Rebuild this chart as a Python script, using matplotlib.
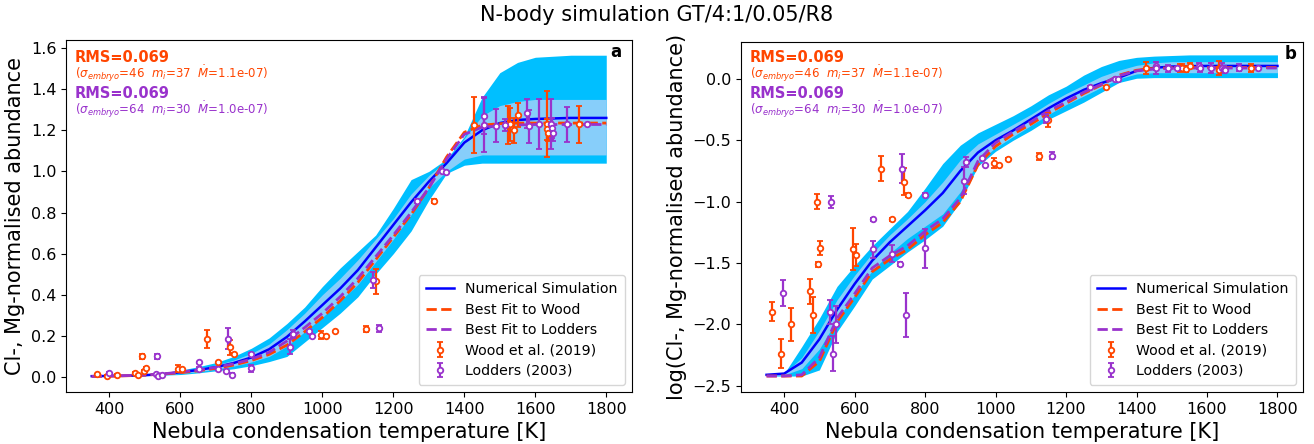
import numpy as np
import matplotlib.pyplot as plt

# temperature grid of the model curves [K]
T_grid = [350, 400, 450, 500, 550, 600, 650, 700, 750, 800, 850, 900, 950, 1000,
          1050, 1100, 1150, 1200, 1250, 1300, 1350, 1400, 1450, 1500, 1550, 1600, 1700, 1800]

# panel a: linear abundance
sim_a = [.004, .005, .006, .009, .014, .023, .034, .048, .068, .095, .135, .195, .27, .35,
         .43, .52, .63, .74, .85, .95, 1.04, 1.14, 1.2, 1.235, 1.25, 1.255, 1.26, 1.26]
outer_lo_a = [.004, .004, .005, .006, .009, .012, .02, .03, .04, .055, .075, .1, .17, .24,
              .31, .39, .5, .6, .71, .86, .99, 1.03, 1.04, 1.04, 1.04, 1.04, 1.04, 1.04]
outer_hi_a = [.004, .005, .008, .013, .02, .033, .05, .07, .1, .14, .19, .26, .34, .44,
              .53, .61, .69, .82, .96, 1.0, 1.06, 1.17, 1.36, 1.48, 1.53, 1.555, 1.565, 1.565]
inner_lo_a = [.004, .004, .005, .007, .011, .017, .026, .038, .053, .073, .1, .15, .22, .29,
              .37, .45, .56, .67, .79, .92, 1.0, 1.06, 1.08, 1.08, 1.08, 1.08, 1.08, 1.08]
inner_hi_a = [.004, .005, .007, .011, .017, .028, .042, .058, .082, .115, .16, .23, .31, .4,
              .48, .57, .67, .77, .89, .98, 1.05, 1.16, 1.27, 1.32, 1.34, 1.35, 1.35, 1.35]
fit_wood_a = [.003, .004, .006, .009, .014, .021, .03, .042, .058, .08, .11, .155, .22, .29,
              .37, .46, .57, .68, .79, .92, 1.07, 1.19, 1.225, 1.232, 1.235, 1.235, 1.235, 1.235]
fit_lodd_a = [.003, .005, .007, .01, .015, .024, .034, .047, .064, .087, .12, .175, .24, .31,
              .39, .48, .585, .69, .8, .92, 1.06, 1.18, 1.215, 1.222, 1.226, 1.228, 1.228, 1.228]

# panel b: log abundance
sim_b = [-2.41, -2.40, -2.31, -2.12, -1.88, -1.67, -1.48, -1.33, -1.2, -1.07, -0.93, -0.75, -0.6, -0.5,
         -0.42, -0.33, -0.24, -0.16, -0.09, -0.035, 0.01, 0.065, 0.09, 0.1, 0.103, 0.105, 0.105, 0.105]
outer_lo_b = [-2.42, -2.42, -2.42, -2.37, -2.06, -1.85, -1.63, -1.52, -1.41, -1.31, -1.2, -1.0, -0.71, -0.59,
              -0.5, -0.42, -0.33, -0.26, -0.19, -0.11, -0.03, 0.005, 0.01, 0.01, 0.01, 0.01, 0.01, 0.01]
outer_hi_b = [-2.42, -2.4, -2.18, -1.95, -1.69, -1.52, -1.36, -1.22, -1.08, -0.89, -0.69, -0.54, -0.44, -0.37,
              -0.3, -0.22, -0.13, -0.06, 0.03, 0.1, 0.15, 0.175, 0.185, 0.19, 0.195, 0.195, 0.195, 0.195]
inner_lo_b = [-2.42, -2.41, -2.36, -2.2, -1.96, -1.76, -1.56, -1.42, -1.3, -1.2, -1.1, -0.92, -0.68, -0.56,
              -0.47, -0.38, -0.29, -0.21, -0.14, -0.07, 0.0, 0.04, 0.05, 0.05, 0.05, 0.05, 0.05, 0.05]
inner_hi_b = [-2.41, -2.4, -2.27, -2.05, -1.8, -1.6, -1.42, -1.27, -1.14, -1.0, -0.84, -0.66, -0.53, -0.45,
              -0.37, -0.29, -0.2, -0.12, -0.05, 0.02, 0.07, 0.11, 0.13, 0.14, 0.14, 0.14, 0.14, 0.14]
fit_wood_b = [-2.42, -2.42, -2.42, -2.3, -1.98, -1.78, -1.57, -1.47, -1.39, -1.27, -1.17, -1.0, -0.7, -0.55,
              -0.45, -0.37, -0.28, -0.2, -0.12, -0.05, 0.03, 0.07, 0.085, 0.09, 0.092, 0.092, 0.092, 0.092]
fit_lodd_b = [-2.42, -2.42, -2.41, -2.27, -1.95, -1.75, -1.54, -1.44, -1.36, -1.24, -1.14, -0.97, -0.67, -0.52,
              -0.43, -0.35, -0.26, -0.19, -0.11, -0.045, 0.025, 0.065, 0.08, 0.085, 0.088, 0.088, 0.088, 0.088]

# Wood et al. (2019)
wood_T = [365, 392, 420, 472, 481, 493, 497, 503, 594, 604, 675, 705, 740, 752, 995, 1011, 1035,
          1122, 1150, 1314, 1427, 1522, 1530, 1541, 1552, 1633, 1634, 1635, 1724]
wood_val = [0.0127, 0.0058, 0.010, 0.0186, 0.012, 0.100, 0.031, 0.042, 0.041, 0.037, 0.186, 0.072,
            0.145, 0.114, 0.205, 0.200, 0.223, 0.234, 0.465, 0.857, 1.226, 1.226, 1.23, 1.20, 1.275,
            1.23, 1.205, 1.187, 1.23]
wood_err = [0.0023, 0.0016, 0.0031, 0.0043, 0.0041, 0.0138, 0.0014, 0.0058, 0.016, 0.0077, 0.043, 0.002,
            0.037, 0.004, 0.019, 0.003, 0.003, 0.016, 0.06, 0.01, 0.137, 0.093, 0.08, 0.06, 0.06,
            0.16, 0.05, 0.04, 0.09]

# Lodders (2003)
lodd_T = [398, 531, 533, 538, 548, 651, 653, 705, 729, 735, 746, 800, 800, 909, 916, 961, 970,
          1143, 1160, 1267, 1338, 1348, 1455, 1456, 1490, 1516, 1576, 1581, 1610, 1643, 1647, 1650,
          1690, 1746]
lodd_val = [0.018, 0.0126, 0.100, 0.0058, 0.010, 0.072, 0.041, 0.0376, 0.031, 0.186, 0.012, 0.1135,
            0.0417, 0.148, 0.209, 0.226, 0.197, 0.472, 0.237, 0.858, 1.002, 0.999, 1.27, 1.225, 1.221,
            1.225, 1.282, 1.22, 1.23, 1.23, 1.21, 1.186, 1.23, 1.23]
lodd_err = [0.0044, 0.0029, 0.0115, 0.0019, 0.0035, 0.002, 0.0066, 0.006, 0.001, 0.051, 0.005, 0.003,
            0.0154, 0.037, 0.019, 0.0, 0.0, 0.04, 0.016, 0.01, 0.005, 0.005, 0.09, 0.13, 0.08,
            0.03, 0.07, 0.08, 0.12, 0.12, 0.05, 0.04, 0.085, 0.0]

ORANGE = 'orangered'
PURPLE = 'darkorchid'


def draw_panel(ax, curves, log=False):
    sim, olo, ohi, ilo, ihi, fw, fl = curves
    ax.fill_between(T_grid, olo, ohi, color='deepskyblue', lw=0, zorder=1)
    ax.fill_between(T_grid, ilo, ihi, color='lightskyblue', lw=0, zorder=2)
    ax.plot(T_grid, sim, color='blue', lw=1.8, label='Numerical Simulation', zorder=3)
    ax.plot(T_grid, fw, color=ORANGE, lw=2, ls='--', label='Best Fit to Wood', zorder=4)
    ax.plot(T_grid, fl, color=PURPLE, lw=2, ls='--', label='Best Fit to Lodders', zorder=4)

    for T, v, e, c, lab in [(wood_T, wood_val, wood_err, ORANGE, 'Wood et al. (2019)'),
                            (lodd_T, lodd_val, lodd_err, PURPLE, 'Lodders (2003)')]:
        v = np.array(v)
        e = np.array(e)
        if log:
            y, ye = np.log10(v), e / (v * np.log(10))
        else:
            y, ye = v, e
        ax.errorbar(T, y, yerr=ye, fmt='o', ms=4, mfc='white', mec=c, mew=1.3,
                    ecolor=c, elinewidth=1.6, capsize=2.5, capthick=1.6,
                    label=lab, zorder=5)

    ax.set_xlim(277.5, 1872.5)
    ax.set_xticks(range(400, 1801, 200))
    ax.tick_params(labelsize=11.5)
    ax.set_xlabel('Nebula condensation temperature [K]', fontsize=15)
    ax.legend(loc='lower right', fontsize=10.2, borderpad=0.5, handlelength=2.0,
              labelspacing=0.45)


fig = plt.figure(figsize=(13.14, 4.44), dpi=100)
ax1 = fig.add_axes([66 / 1314, 52 / 444, 566 / 1314, 352 / 444])
ax2 = fig.add_axes([741 / 1314, 52 / 444, 562 / 1314, 350 / 444])

draw_panel(ax1, [sim_a, outer_lo_a, outer_hi_a, inner_lo_a, inner_hi_a, fit_wood_a, fit_lodd_a])
ax1.set_ylim(-0.073, 1.639)
ax1.set_yticks(np.arange(0, 1.61, 0.2))
ax1.set_ylabel('Cl-, Mg-normalised abundance', fontsize=15)

draw_panel(ax2, [sim_b, outer_lo_b, outer_hi_b, inner_lo_b, inner_hi_b, fit_wood_b, fit_lodd_b], log=True)
ax2.set_ylim(-2.55, 0.30)
ax2.set_yticks(np.arange(-2.5, 0.01, 0.5))
ax2.set_ylabel('log(Cl-, Mg-normalised abundance)', fontsize=15)

# best fit annotations
for ax, ys in [(ax1, (0.951, 0.905, 0.849, 0.801)), (ax2, (0.956, 0.910, 0.853, 0.805))]:
    ax.text(0.016, ys[0], 'RMS=0.069', color=ORANGE, fontsize=10.5, fontweight='bold',
            transform=ax.transAxes, va='center')
    ax.text(0.016, ys[1], r'($\sigma_{embryo}$=46  $m_i$=37  $\dot{M}$=1.1e-07)', color=ORANGE,
            fontsize=8.5, transform=ax.transAxes, va='center')
    ax.text(0.016, ys[2], 'RMS=0.069', color=PURPLE, fontsize=10.5, fontweight='bold',
            transform=ax.transAxes, va='center')
    ax.text(0.016, ys[3], r'($\sigma_{embryo}$=64  $m_i$=30  $\dot{M}$=1.0e-07)', color=PURPLE,
            fontsize=8.5, transform=ax.transAxes, va='center')

ax1.text(0.972, 0.966, 'a', fontsize=12, fontweight='bold', transform=ax1.transAxes,
         ha='center', va='center')
ax2.text(0.977, 0.966, 'b', fontsize=12, fontweight='bold', transform=ax2.transAxes,
         ha='center', va='center')

fig.text(0.5, 1 - 15 / 444, 'N-body simulation GT/4:1/0.05/R8', ha='center', va='center', fontsize=15)

plt.savefig('out.png', dpi=100)
